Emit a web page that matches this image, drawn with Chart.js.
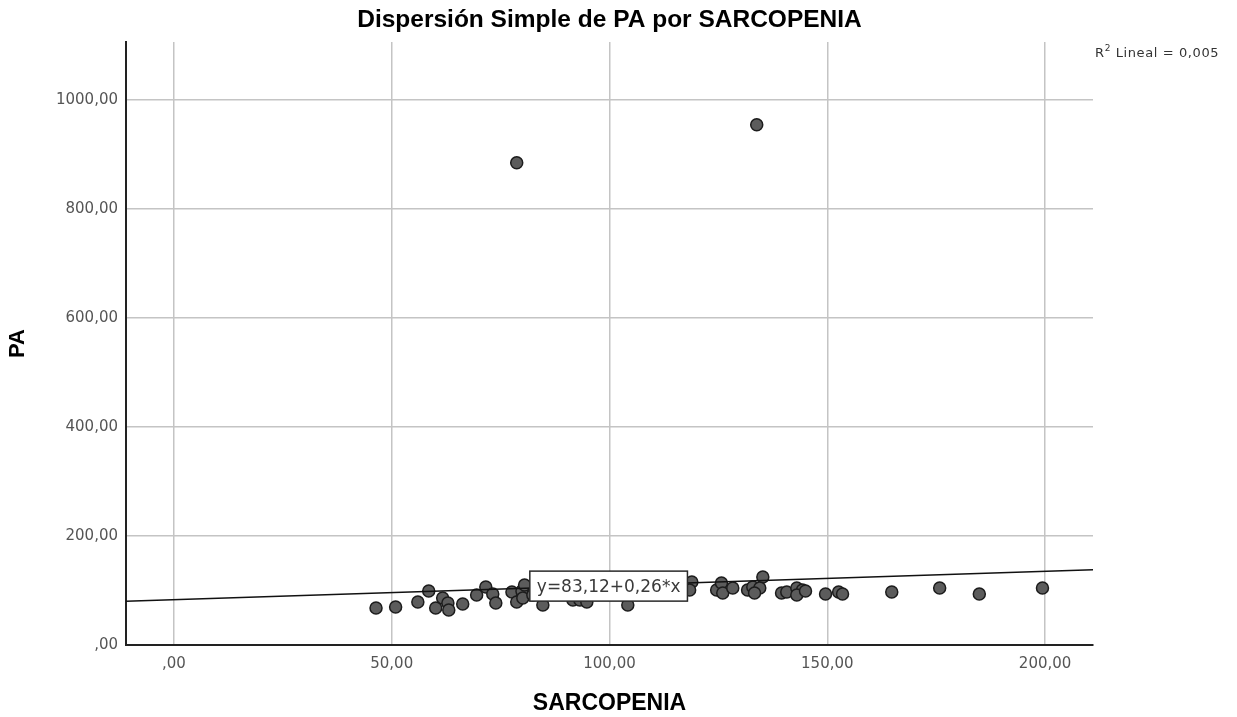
<!DOCTYPE html>
<html>
<head>
<meta charset="utf-8">
<script src="https://cdn.jsdelivr.net/npm/chart.js@4"></script>
<style>
html,body{margin:0;padding:0;background:#fff;}
canvas{display:block;}
</style>
</head>
<body>
<canvas id="c" width="1237" height="717"></canvas>
<script>
// ---- data ----
const sarcopenia = [46.4,50.9,56.0,58.5,60.1,61.7,62.9,63.1,66.3,69.5,71.6,73.2,73.9,77.6,78.7,79.9,80.1,80.5,82.4,84.7,91.6,93.2,94.8,104.2,118.9,118.4,124.6,125.7,126.0,128.3,131.7,132.9,135.2,134.5,133.3,139.5,140.7,143.0,144.3,143.0,145.0,149.6,152.6,153.5,164.8,175.8,184.9,199.4,78.7,133.8];
const pa         = [67.9,69.7,78.9,99.1,67.9,86.2,77.1,64.2,75.2,91.7,106.4,93.6,77.1,97.2,78.9,99.1,86.2,110.0,91.7,73.4,82.6,82.6,78.9,73.4,115.6,100.9,100.9,113.8,95.4,104.6,100.9,106.4,124.8,104.6,95.4,95.4,97.2,104.6,100.9,91.7,99.0,93.6,97.2,93.6,97.2,104.6,93.6,104.6,884.4,954.1];
const fitX = [-11, 211];
const fitY = [80.26, 137.98];
const titleText = 'Dispersión Simple de PA por SARCOPENIA';
const fitLabel = 'y=83,12+0,26*x';
const r2Text = ' Lineal = 0,005';
const xTickValues = [0, 50, 100, 150, 200];
const xTickLabels = [',00', '50,00', '100,00', '150,00', '200,00'];
const yTickValues = [0, 200, 400, 600, 800, 1000];
const yTickLabels = [',00', '200,00', '400,00', '600,00', '800,00', '1000,00'];

const points = sarcopenia.map((v, i) => ({x: v, y: pa[i]}));
const fitPoints = fitX.map((v, i) => ({x: v, y: fitY[i]}));

const annot = {
  id: 'annot',
  afterDatasetsDraw(chart) {
    const ctx = chart.ctx;
    const xs = chart.scales.x, ys = chart.scales.y;
    // equation box
    const cx = xs.getPixelForValue(99.8);
    const cy = ys.getPixelForValue(108);
    ctx.save();
    ctx.font = '17px "DejaVu Sans"';
    const w = ctx.measureText(fitLabel).width + 14;
    const h = 30;
    ctx.fillStyle = '#fff';
    ctx.fillRect(cx - w / 2, cy - h / 2, w, h);
    ctx.strokeStyle = '#2a2a2a';
    ctx.lineWidth = 1.5;
    ctx.strokeRect(cx - w / 2, cy - h / 2, w, h);
    ctx.fillStyle = '#3a3a3a';
    ctx.textAlign = 'center';
    ctx.textBaseline = 'middle';
    ctx.fillText(fitLabel, cx, cy + 1);
    ctx.restore();
  },
  afterDraw(chart) {
    const ctx = chart.ctx;
    const ca = chart.chartArea;
    ctx.save();
    // title, centred over the plot area
    ctx.fillStyle = '#000';
    ctx.textAlign = 'center';
    ctx.textBaseline = 'middle';
    ctx.font = 'bold 24.5px "Liberation Sans", Arial, sans-serif';
    ctx.fillText(titleText, (ca.left + ca.right) / 2, 20);
    // R² label
    ctx.fillStyle = '#333';
    ctx.textBaseline = 'alphabetic';
    ctx.textAlign = 'left';
    ctx.letterSpacing = '0.6px';
    ctx.font = '13px "DejaVu Sans"';
    let x = 1095, y = 57;
    ctx.fillText('R', x, y);
    x += ctx.measureText('R').width;
    ctx.font = '9px "DejaVu Sans"';
    ctx.fillText('2', x, y - 6);
    x += ctx.measureText('2').width;
    ctx.font = '13px "DejaVu Sans"';
    ctx.fillText(r2Text, x, y);
    ctx.restore();
  }
};

new Chart(document.getElementById('c'), {
  type: 'scatter',
  data: {
    datasets: [
      {
        type: 'line',
        data: fitPoints,
        borderColor: '#111',
        borderWidth: 1.5,
        pointRadius: 0,
        fill: false,
        order: 0
      },
      {
        data: points,
        backgroundColor: '#5c5c5c',
        borderColor: '#1c1c1c',
        borderWidth: 1.5,
        pointRadius: 6,
        order: 1
      }
    ]
  },
  options: {
    responsive: false,
    animation: false,
    devicePixelRatio: 1,
    layout: {padding: {left: 0, right: 144, top: 42, bottom: 0}},
    plugins: {
      legend: {display: false},
      tooltip: {enabled: false},
      title: {display: false}
    },
    scales: {
      x: {
        type: 'linear',
        min: -11,
        max: 211,
        afterFit(s) { s.height = 72; },
        afterBuildTicks(s) { s.ticks = xTickValues.map(v => ({value: v})); },
        ticks: {
          includeBounds: false,
          stepSize: 50,
          padding: 10,
          color: '#555',
          font: {family: '"DejaVu Sans"', size: 15},
          callback: (v) => { const i = xTickValues.indexOf(v); return i >= 0 ? xTickLabels[i] : ''; }
        },
        grid: {color: '#c4c4c4', lineWidth: 1.5, drawTicks: false},
        border: {color: '#222', width: 2},
        title: {
          display: true,
          text: 'SARCOPENIA',
          color: '#000',
          font: {family: '"Liberation Sans", Arial, sans-serif', size: 23, weight: 'bold', lineHeight: 1},
          padding: {top: 0, bottom: 2}
        }
      },
      y: {
        type: 'linear',
        min: 0,
        max: 1106,
        afterFit(s) { s.width = 126; },
        afterBuildTicks(s) { s.ticks = yTickValues.map(v => ({value: v})); },
        ticks: {
          includeBounds: false,
          stepSize: 200,
          padding: 8,
          color: '#555',
          font: {family: '"DejaVu Sans"', size: 15},
          callback: (v) => { const i = yTickValues.indexOf(v); return i >= 0 ? yTickLabels[i] : ''; }
        },
        grid: {color: '#c4c4c4', lineWidth: 1.5, drawTicks: false},
        border: {color: '#222', width: 2},
        title: {
          display: true,
          text: 'PA',
          color: '#000',
          font: {family: '"Liberation Sans", Arial, sans-serif', size: 22, weight: 'bold', lineHeight: 1},
          padding: {top: 7, bottom: 0}
        }
      }
    }
  },
  plugins: [annot]
});
</script>
</body>
</html>
